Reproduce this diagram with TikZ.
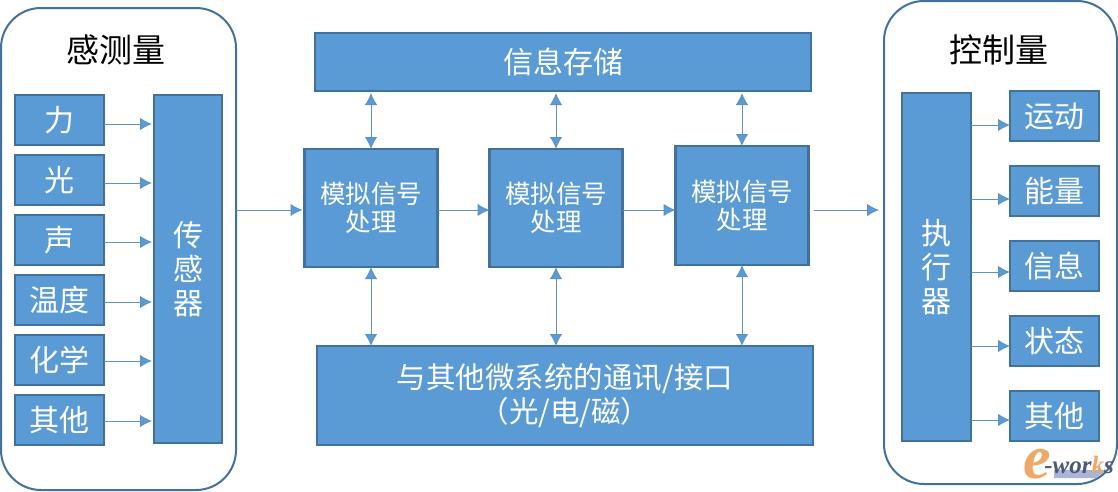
\documentclass[tikz,border=0pt]{standalone}
\usepackage{fontspec}
\usetikzlibrary{arrows.meta}
\newfontfamily\cjk{Noto Sans CJK SC}
\newfontfamily\wmfont{Liberation Serif}
\definecolor{bfill}{HTML}{5B9BD5}
\definecolor{bline}{HTML}{41719C}
\definecolor{aline}{HTML}{5B93C6}
\definecolor{wmorange}{HTML}{F0A868}
\definecolor{wmdark}{HTML}{4A5A78}
\definecolor{wmbar}{HTML}{A9B4D6}
\newcommand{\fs}[2]{\fontsize{#1}{#2}\selectfont}
\tikzset{
  x=1pt,y=-1pt,
  box/.style={draw=bline,fill=bfill,line width=2.4pt,inner sep=0pt,outer sep=0pt,text=white,align=center,font=\cjk\fs{30}{34}},
  modbox/.style={box,font=\cjk\fs{25.5}{28}},
  panel/.style={draw=bline,fill=white,line width=2pt,rounded corners=40pt,inner sep=0pt,outer sep=0pt},
  title/.style={font=\cjk\fs{33}{36},text=black,inner sep=0pt},
  conn/.style={draw=aline,line width=1pt,-{Latex[length=12pt,width=12.5pt,fill=bfill]}},
  dconn/.style={draw=aline,line width=1pt,{Latex[length=12pt,width=12.5pt,fill=bfill]}-{Latex[length=12pt,width=12.5pt,fill=bfill]}},
}
\begin{document}
\begin{tikzpicture}
\useasboundingbox (0,0) rectangle (1118,491);
\fill[white] (0,0) rectangle (1118,491);
% panels
\node[panel,minimum width=235pt,minimum height=482pt] (pl) at (118.5,249) {};
\node[panel,minimum width=233pt,minimum height=483pt] (pr) at (1000.5,242.5) {};
\node[title] (tl) at (116,50) {感测量};
\node[title] (tr) at (999,50) {控制量};
% left inputs
\foreach \n/\t/\y in {i1/力/120,i2/光/180,i3/声/240,i4/温度/300,i5/化学/360,i6/其他/420}
  \node[box,minimum width=89pt,minimum height=50pt] (\n) at (59.5,\y) {\t};
\node[box,minimum width=68pt,minimum height=348pt] (sens) at (188,269) {传\\感\\器};
% centre
\node[box,minimum width=496pt,minimum height=58pt] (store) at (563,62) {信息存储};
\node[modbox,minimum width=133pt,minimum height=118pt] (m1) at (371,208) {模拟信号\\处理};
\node[modbox,minimum width=133pt,minimum height=118pt] (m2) at (556,208) {模拟信号\\处理};
\node[modbox,minimum width=133pt,minimum height=119pt] (m3) at (742,205.5) {模拟信号\\处理};
\node[box,font=\cjk\fs{29.5}{34},minimum width=496pt,minimum height=99pt] (comm) at (565,395.5) {\raisebox{-1.5pt}{与其他微系统的通讯/接口}\\\raisebox{-1.5pt}{（光/电/磁）}};
% right
\node[box,minimum width=69pt,minimum height=348pt] (exec) at (936.5,267) {执\\行\\器};
\foreach \n/\t/\y in {o1/运动/116,o2/能量/191,o3/信息/266,o4/状态/341,o5/其他/416}
  \node[box,minimum width=89pt,minimum height=50pt] (\n) at (1054.5,\y) {\t};
% input connectors
\foreach \n/\d in {i1/4,i2/3,i3/2,i4/2,i5/1,i6/1}
  \draw[conn,shorten >=2pt] ([yshift=-\d pt]\n.east) -- ([yshift=-\d pt]\n.east -| sens.west);
% output connectors
\foreach \n/\d in {o1/9,o2/8,o3/6,o4/5,o5/4}
  \draw[conn] ([yshift=-\d pt]\n.west -| exec.east) -- ([yshift=-\d pt]\n.west);
% chain (runs 2px below the centres of the first two modules)
\coordinate (cy) at ([yshift=-2pt]m1.west);
\draw[conn,shorten >=2pt] (pl.east |- cy) -- (cy);
\draw[conn] (m1.east |- cy) -- (m2.west |- cy);
\draw[conn] (m2.east |- cy) -- (m3.west |- cy);
\draw[conn,shorten <=5pt,shorten >=23pt] (m3.east |- cy) -- (exec.west |- cy);
% vertical links
\foreach \m in {m1,m2,m3}{
  \draw[dconn,shorten <=2pt] (\m.north |- store.south) -- (\m.north);
  \draw[dconn] (\m.south) -- (\m.south |- comm.north);
}
% watermark
\fill[wmbar] (1054,470) -- (1106,470) -- (1096,478) -- (1054,478) -- cycle;
\node[inner sep=0pt,text=wmorange,font=\wmfont\itshape\bfseries\fs{62}{62}] (wme) at (1037,464) {e};
\node[inner sep=0pt,text=wmdark,font=\wmfont\itshape\bfseries\fs{25}{25}] (wmw) at (1079,465) {-wor\textcolor{wmorange}{k}s};
\end{tikzpicture}
\end{document}
